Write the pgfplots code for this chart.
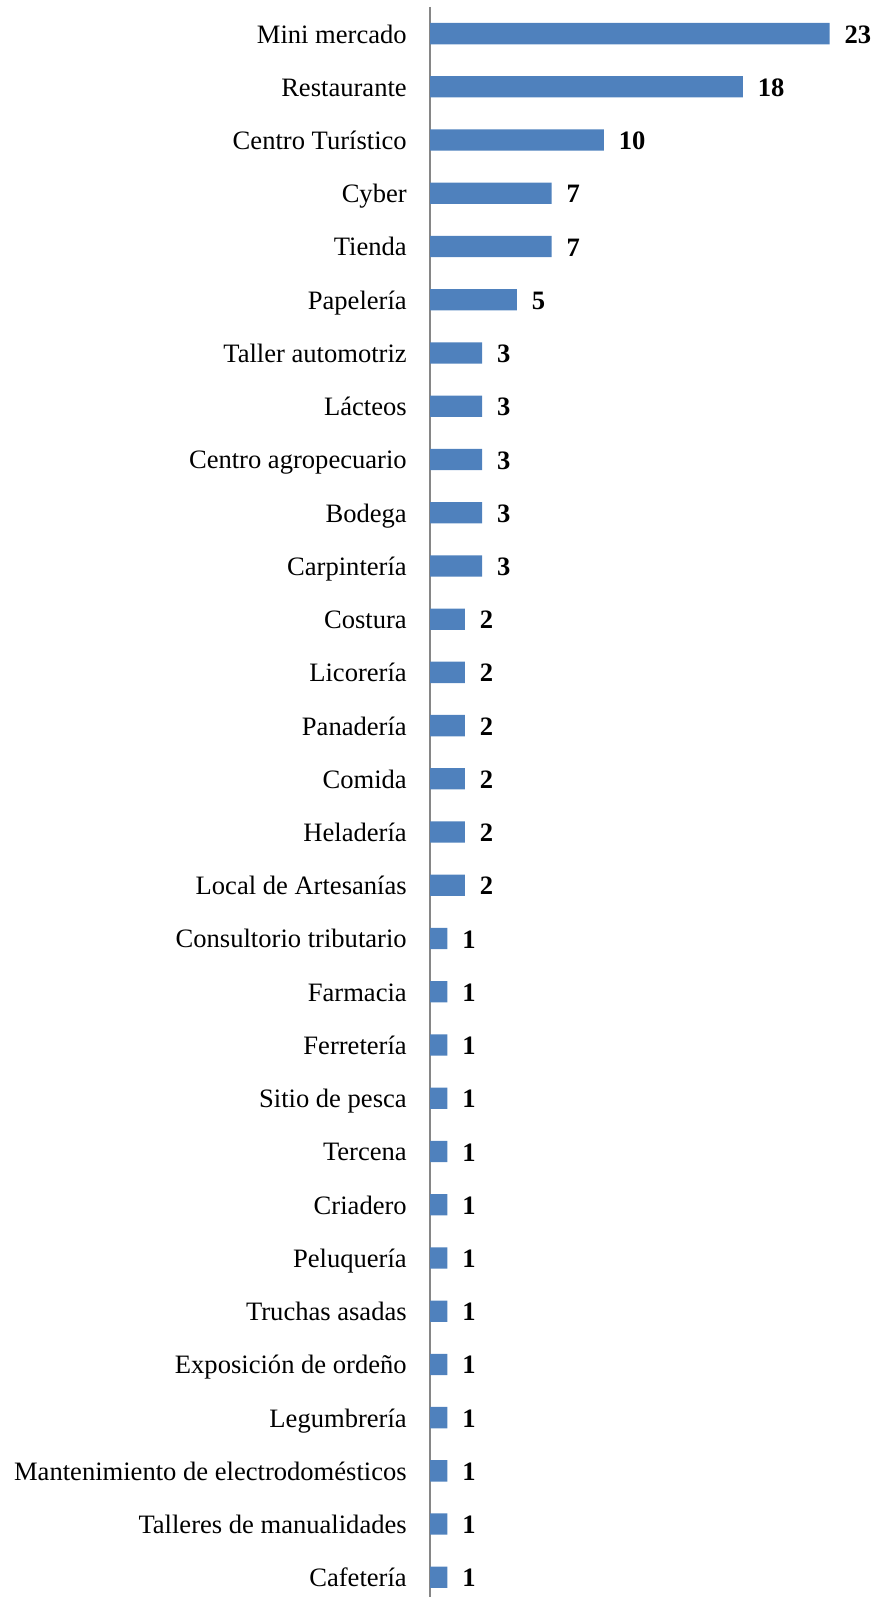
\documentclass[border=0pt]{standalone}
\usepackage{fontspec}
\setmainfont{Liberation Serif}
\usepackage{pgfplots}
\pgfplotsset{compat=1.18}
\definecolor{barblue}{HTML}{4F81BD}
\definecolor{axgray}{RGB}{134,134,134}
\begin{document}
\begin{tikzpicture}
\begin{axis}[
 x=8.695pt, y=26.64pt,
 xmin=0, xmax=25.79, ymin=-0.5, ymax=29.37,
 y dir=reverse,
 xbar, bar width=10.65pt,
 axis x line=none, axis y line=left,
 axis line style={-, draw=axgray, line width=1pt},
 xtick=\empty,
 ytick={0,...,29},
 yticklabels={Mini mercado,Restaurante,Centro Turístico,Cyber,Tienda,Papelería,Taller automotriz,Lácteos,Centro agropecuario,Bodega,Carpintería,Costura,Licorería,Panadería,Comida,Heladería,Local de Artesanías,Consultorio tributario,Farmacia,Ferretería,Sitio de pesca,Tercena,Criadero,Peluquería,Truchas asadas,Exposición de ordeño,Legumbrería,Mantenimiento de electrodomésticos,Talleres de manualidades,Cafetería},
 major tick length=0pt,
 yticklabel style={anchor=base east, inner sep=0pt, xshift=-11.5pt, yshift=-4.7pt, font=\fontsize{13.3}{16}\selectfont},
 nodes near coords,
 nodes near coords style={anchor=base west, inner sep=0pt, xshift=7.3pt, yshift=-4.8pt, font=\fontsize{13.3}{16}\selectfont\bfseries},
 /pgf/number format/assume math mode=true,
 clip=false,
]
\addplot[fill=barblue, draw=none] coordinates {
(23,0) (18,1) (10,2) (7,3) (7,4) (5,5) (3,6) (3,7) (3,8) (3,9) (3,10)
(2,11) (2,12) (2,13) (2,14) (2,15) (2,16)
(1,17) (1,18) (1,19) (1,20) (1,21) (1,22) (1,23) (1,24) (1,25) (1,26) (1,27) (1,28) (1,29)
};
\end{axis}
\path ([xshift=-215.25pt]current axis.north west) ([yshift=3.5pt]current axis.north west) ([xshift=224.25pt]current axis.north west);
\end{tikzpicture}
\end{document}
